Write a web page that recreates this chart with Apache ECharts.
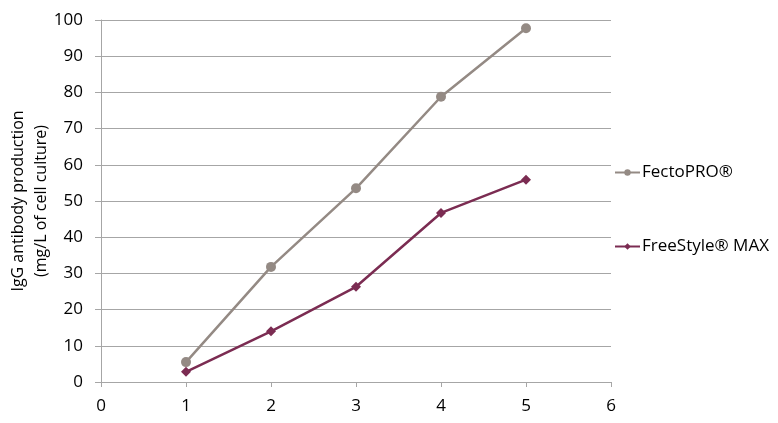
<!DOCTYPE html>
<html><head><meta charset="utf-8">
<script src="https://cdn.jsdelivr.net/npm/echarts@6/dist/echarts.min.js"></script>
<style>html,body{margin:0;padding:0;background:#fff}#c{width:778px;height:423px}</style>
</head><body><div id="c"></div>
<script>
const xValues = [1, 2, 3, 4, 5];
const fectoPRO = [5.5, 31.8, 53.5, 78.8, 97.7];
const freeStyleMAX = [2.8, 14, 26.3, 46.7, 55.9];
const seriesNames = ['FectoPRO®', 'FreeStyle® MAX'];
const yAxisTitle = 'IgG antibody production\n(mg/L of cell culture)';

const font = 'Open Sans, Liberation Sans, sans-serif';
const chart = echarts.init(document.getElementById('c'));
chart.setOption({
  animation: false,
  grid: {left: 101, right: 167, top: 20, bottom: 41, containLabel: false, outerBoundsMode: 'none'},
  legend: {
    orient: 'vertical', left: 614, top: 164, itemGap: 57,
    itemWidth: 25, itemHeight: 8, padding: 0,
    textStyle: {fontFamily: font, fontSize: 17, color: '#000', padding: [0, 0, 0, -3]},
    data: seriesNames
  },
  xAxis: {
    type: 'value', min: 0, max: 6, interval: 1,
    axisLine: {lineStyle: {color: '#A6A6A6'}},
    axisTick: {show: true, length: 5, lineStyle: {color: '#A6A6A6'}},
    axisLabel: {fontFamily: font, fontSize: 17, color: '#000', margin: 16},
    splitLine: {show: false}
  },
  yAxis: {
    type: 'value', min: 0, max: 100, interval: 10,
    name: yAxisTitle, nameLocation: 'middle', nameGap: 48, nameMoveOverlap: false,
    nameTextStyle: {fontFamily: font, fontSize: 16, color: '#000', lineHeight: 23},
    axisLine: {show: true, lineStyle: {color: '#A6A6A6'}},
    axisTick: {show: true, length: 6, lineStyle: {color: '#A6A6A6'}},
    axisLabel: {fontFamily: font, fontSize: 17, color: '#000', margin: 18},
    splitLine: {lineStyle: {color: '#A6A6A6'}}
  },
  series: [
    {
      name: seriesNames[0], type: 'line',
      data: xValues.map((x, i) => [x, fectoPRO[i]]),
      symbol: 'circle', symbolSize: 10,
      lineStyle: {color: '#948A84', width: 2.5},
      itemStyle: {color: '#948A84'}
    },
    {
      name: seriesNames[1], type: 'line',
      data: xValues.map((x, i) => [x, freeStyleMAX[i]]),
      symbol: 'diamond', symbolSize: 10,
      lineStyle: {color: '#7B2C52', width: 2.5},
      itemStyle: {color: '#7B2C52'}
    }
  ]
});
</script></body></html>
